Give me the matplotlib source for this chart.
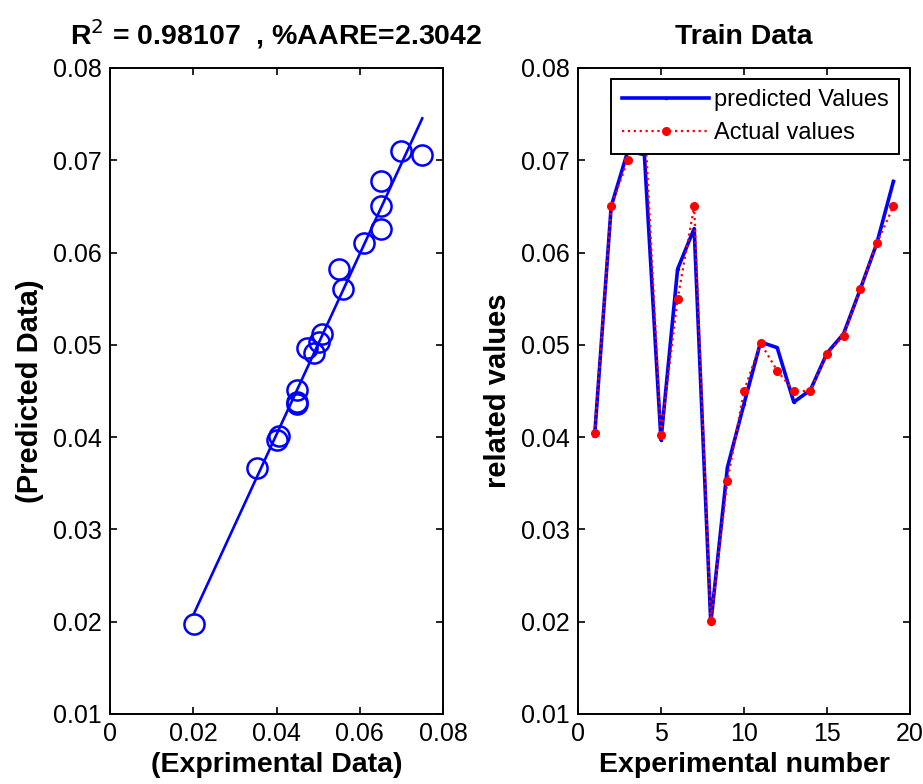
import numpy as np
import matplotlib
matplotlib.use("Agg")
import matplotlib.pyplot as plt

plt.rcParams['font.family'] = ['Liberation Sans', 'DejaVu Sans']

# experiment number, actual value, predicted value
exp_no = [1, 2, 3, 4, 5, 6, 7, 8, 9, 10, 11, 12, 13, 14, 15, 16, 17, 18, 19]
actual = [0.0405, 0.0650, 0.0700, 0.0750, 0.0402, 0.0550, 0.0650, 0.0201, 0.0352, 0.0450,
          0.0502, 0.0472, 0.0450, 0.0450, 0.0490, 0.0510, 0.0560, 0.0610, 0.0650]
predicted = [0.0401, 0.0650, 0.0710, 0.0706, 0.0397, 0.0582, 0.0626, 0.0198, 0.0367, 0.0436,
             0.0503, 0.0497, 0.0438, 0.0451, 0.0491, 0.0512, 0.0560, 0.0610, 0.0677]

title_left = r'R$^2$ = 0.98107  , %AARE=2.3042'
title_right = 'Train Data'

fig = plt.figure(figsize=(9.23, 7.84), dpi=100)
ax1 = fig.add_axes([0.1192, 0.0893, 0.3608, 0.824])
ax2 = fig.add_axes([0.6262, 0.0893, 0.3597, 0.824])

# left: predicted vs experimental with fit line
ax1.plot(actual, predicted, 'o', mfc='none', mec='blue', ms=14.5, mew=1.8)
k, b = np.polyfit(actual, predicted, 1)
xs = np.array([min(actual), max(actual)])
ax1.plot(xs, k * xs + b, color='blue', lw=1.9)
ax1.set_xlim(0, 0.08)
ax1.set_ylim(0.01, 0.08)
ax1.set_xticks([0, 0.02, 0.04, 0.06, 0.08])
ax1.set_xticklabels(['0', '0.02', '0.04', '0.06', '0.08'])
ax1.set_yticks(np.arange(0.01, 0.081, 0.01))
ax1.set_yticklabels(['%.2f' % v for v in np.arange(0.01, 0.081, 0.01)])
ax1.set_title(title_left, fontsize=20.5, fontweight='bold', pad=17)
ax1.set_xlabel('(Exprimental Data)', fontsize=20.5, fontweight='bold', labelpad=4)
ax1.set_ylabel('(Predicted Data)', fontsize=21, fontweight='bold', labelpad=6)

# right: predicted and actual per experiment
ax2.plot(exp_no, predicted, '.-', color='blue', lw=2.6, ms=3, label='predicted Values')
ax2.plot(exp_no, actual, '.:', color='red', lw=1.6, ms=11, label='Actual values')
ax2.set_xlim(0, 20)
ax2.set_ylim(0.01, 0.08)
ax2.set_xticks([0, 5, 10, 15, 20])
ax2.set_yticks(np.arange(0.01, 0.081, 0.01))
ax2.set_yticklabels(['%.2f' % v for v in np.arange(0.01, 0.081, 0.01)])
ax2.set_title(title_right, fontsize=20.5, fontweight='bold', pad=17)
ax2.set_xlabel('Experimental number', fontsize=20.5, fontweight='bold', labelpad=4)
ax2.set_ylabel('related values', fontsize=21, fontweight='bold', labelpad=6)
leg = ax2.legend(loc='upper right', fontsize=17, fancybox=False, framealpha=1,
                 edgecolor='black', borderaxespad=0.45, handlelength=3.7,
                 handletextpad=0.2, borderpad=0.45, labelspacing=0.45)
leg.get_frame().set_linewidth(1.4)
leg.set_zorder(5)

for ax in (ax1, ax2):
    ax.tick_params(direction='in', length=5, width=1.2, labelsize=18,
                   top=True, right=True, pad=6)
    for s in ax.spines.values():
        s.set_linewidth(1.4)

fig.savefig('out.png', dpi=100)
